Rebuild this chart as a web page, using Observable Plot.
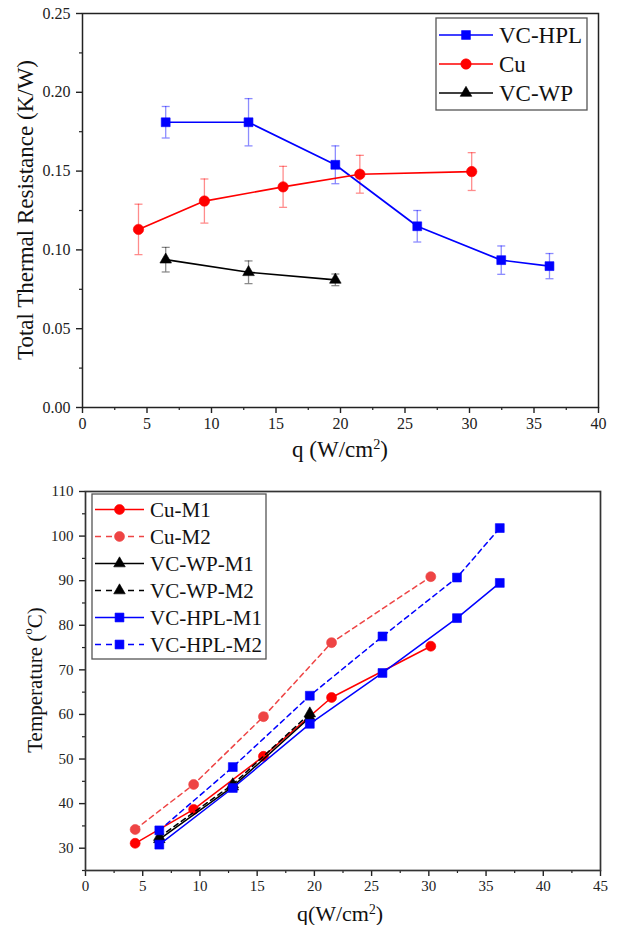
<!DOCTYPE html>
<html><head><meta charset="utf-8">
<script src="https://cdn.jsdelivr.net/npm/d3@7"></script>
<script src="https://cdn.jsdelivr.net/npm/@observablehq/plot@0.6"></script>
<style>
body{margin:0;background:#fff}
#c{position:relative;width:632px;height:925px}
#c svg{display:block;overflow:visible}
#c svg, #c svg text, #c svg tspan{font-family:"Liberation Serif", serif !important}
</style>
</head><body><div id="c"></div>
<script>
// ---------- data: top chart (total thermal resistance) ----------
const qHPL = [6.45, 12.87, 19.6, 25.95, 32.46, 36.2];
const qCu  = [4.34, 9.45, 15.55, 21.5, 30.17];
const qWP  = [6.45, 12.87, 19.6];

const rHPL = [0.181, 0.181, 0.154, 0.115, 0.0935, 0.0897];
const eHPL = [0.010, 0.015, 0.012, 0.010, 0.009, 0.008];
const rCu  = [0.113, 0.131, 0.140, 0.148, 0.1497];
const eCu  = [0.016, 0.014, 0.013, 0.012, 0.012];
const rWP  = [0.0938, 0.0858, 0.081];
const eWP  = [0.0078, 0.0072, 0.0037];

// ---------- data: bottom chart (temperature) ----------
const tCuM1  = [31.1, 38.7, 50.6, 63.8, 75.3];
const tCuM2  = [34.2, 44.3, 59.5, 76.1, 90.9];
const tWPM1  = [32.0, 43.8, 59.3];
const tWPM2  = [32.5, 44.3, 60.2];
const tHPLM1 = [30.8, 43.5, 57.9, 69.3, 81.6, 89.5];
const tHPLM2 = [34.0, 48.2, 64.2, 77.5, 90.7, 101.8];

// tick values
const topXTicks = [0, 5, 10, 15, 20, 25, 30, 35, 40];
const topXMinor = [2.5, 7.5, 12.5, 17.5, 22.5, 27.5, 32.5, 37.5];
const topYTicks = [0, 0.05, 0.10, 0.15, 0.20, 0.25];
const topYMinor = [0.025, 0.075, 0.125, 0.175, 0.225];
const botXTicks = [0, 5, 10, 15, 20, 25, 30, 35, 40, 45];
const botXMinor = [2.5, 7.5, 12.5, 17.5, 22.5, 27.5, 32.5, 37.5, 42.5];
const botYTicks = [30, 40, 50, 60, 70, 80, 90, 100, 110];
const botYMinor = [25, 35, 45, 55, 65, 75, 85, 95, 105];

const FONT = "Liberation Serif";
const BLUE = "#0000ff", RED = "#ff0000", BLACK = "#000000", RED2 = "#ee4444";

const rows = (q, v, e) => q.map((d, i) => ({q: d, v: v[i], e: e ? e[i] : 0}));
const capSymbol = {draw(ctx, size) { const w = Math.sqrt(size / Math.PI); ctx.moveTo(-w, 0); ctx.lineTo(w, 0); }};
const symType = {square: d3.symbolSquare, circle: d3.symbolCircle, triangle: d3.symbolTriangle};

function axes(xt, xm, yt, ym, xfmt, yfmt, fs) {
  return [
    Plot.axisX({ticks: xt, tickSize: 6, tickPadding: 4, tickFormat: xfmt, label: null, fontSize: fs, stroke: "#222", strokeWidth: 1.4, fill: "#222"}),
    Plot.axisX({ticks: xm, tickSize: 3, tickFormat: () => "", label: null, stroke: "#222", strokeWidth: 1.2}),
    Plot.axisY({ticks: yt, tickSize: 6, tickPadding: 6, tickFormat: yfmt, label: null, fontSize: fs, stroke: "#222", strokeWidth: 1.4, fill: "#222"}),
    Plot.axisY({ticks: ym, tickSize: 3, tickFormat: () => "", label: null, stroke: "#222", strokeWidth: 1.2})
  ];
}

// ---------- top chart ----------
const topSeries = [
  {name: "VC-HPL", color: BLUE, symbol: "square", r: 5, data: rows(qHPL, rHPL, eHPL)},
  {name: "Cu", color: RED, symbol: "circle", r: 5.2, data: rows(qCu, rCu, eCu)},
  {name: "VC-WP", color: BLACK, symbol: "triangle", r: 4.3, data: rows(qWP, rWP, eWP)}
];
const topMarks = [];
for (const s of topSeries) {
  topMarks.push(
    Plot.ruleX(s.data, {x: "q", y1: d => d.v - d.e, y2: d => d.v + d.e, stroke: s.color, strokeOpacity: 0.45, strokeWidth: 1.3}),
    Plot.dot(s.data, {x: "q", y: d => d.v + d.e, symbol: capSymbol, r: 4, stroke: s.color, strokeOpacity: 0.45, strokeWidth: 1.3}),
    Plot.dot(s.data, {x: "q", y: d => d.v - d.e, symbol: capSymbol, r: 4, stroke: s.color, strokeOpacity: 0.45, strokeWidth: 1.3})
  );
}
for (const s of topSeries) {
  topMarks.push(
    Plot.line(s.data, {x: "q", y: "v", stroke: s.color, strokeWidth: 1.7}),
    Plot.dot(s.data, {x: "q", y: "v", symbol: s.symbol, r: s.r, fill: s.color, stroke: s.color, strokeWidth: 0.6})
  );
}
const topPlot = Plot.plot({
  width: 632, height: 460,
  marginLeft: 82, marginRight: 34, marginTop: 13, marginBottom: 53,
  x: {domain: [0, 40], label: null},
  y: {domain: [0, 0.25], label: null},
  style: {fontSize: "16px", color: "#222", background: "white"},
  marks: [
    ...axes(topXTicks, topXMinor, topYTicks, topYMinor, d3.format("d"), d3.format(".2f"), 16),
    ...topMarks,
    Plot.frame({stroke: "#222", strokeWidth: 1.5})
  ]
});

// ---------- bottom chart ----------
const botSeries = [
  {name: "Cu-M1", color: RED, symbol: "circle", r: 5, dash: null, data: rows(qCu, tCuM1)},
  {name: "Cu-M2", color: RED2, symbol: "circle", r: 5, dash: "5,4", data: rows(qCu, tCuM2)},
  {name: "VC-WP-M1", color: BLACK, symbol: "triangle", r: 4.3, dash: null, data: rows(qWP, tWPM1)},
  {name: "VC-WP-M2", color: BLACK, symbol: "triangle", r: 4.3, dash: "5,4", data: rows(qWP, tWPM2)},
  {name: "VC-HPL-M1", color: BLUE, symbol: "square", r: 5, dash: null, data: rows(qHPL, tHPLM1)},
  {name: "VC-HPL-M2", color: BLUE, symbol: "square", r: 5, dash: "5,4", data: rows(qHPL, tHPLM2)}
];
const botMarks = [];
for (const s of botSeries) {
  botMarks.push(
    Plot.line(s.data, {x: "q", y: "v", stroke: s.color, strokeWidth: 1.5, strokeDasharray: s.dash || undefined}),
    Plot.dot(s.data, {x: "q", y: "v", symbol: s.symbol, r: s.r, fill: s.color, stroke: s.color, strokeWidth: 0.6})
  );
}
const botPlot = Plot.plot({
  width: 632, height: 465,
  marginLeft: 85, marginRight: 32, marginTop: 31, marginBottom: 55,
  x: {domain: [0, 45], label: null},
  y: {domain: [25, 110], label: null},
  style: {fontSize: "15px", color: "#222", background: "white"},
  marks: [
    ...axes(botXTicks, botXMinor, botYTicks, botYMinor, d3.format("d"), d3.format("d"), 15),
    ...botMarks,
    Plot.frame({stroke: "#333", strokeWidth: 1.7})
  ]
});

const c = document.getElementById("c");
c.appendChild(topPlot);
c.appendChild(botPlot);

// ---------- legends & axis titles ----------
function legend(svg, series, box, y0, dy, x1, x2, xm, xt, fs, dashLen) {
  const g = d3.select(svg).append("g").attr("text-anchor", "start");
  g.append("rect").attr("x", box[0]).attr("y", box[1]).attr("width", box[2]).attr("height", box[3])
    .attr("fill", "white").attr("stroke", "#555").attr("stroke-width", 1.3);
  series.forEach((s, i) => {
    const y = y0 + i * dy;
    g.append("line").attr("x1", x1).attr("x2", x2).attr("y1", y).attr("y2", y)
      .attr("stroke", s.color).attr("stroke-width", 1.6).attr("stroke-dasharray", s.dash ? dashLen : null);
    g.append("path").attr("transform", `translate(${xm},${y})`)
      .attr("d", d3.symbol(symType[s.symbol], Math.PI * s.r * s.r)())
      .attr("fill", s.color).attr("stroke", s.color).attr("stroke-width", 0.6);
    g.append("text").attr("x", xt).attr("y", y).attr("dy", "0.35em")
      .style("font-size", fs + "px").attr("text-anchor", "start")
      .attr("fill", "#111").text(s.name);
  });
}
legend(topPlot, topSeries, [436, 18, 151, 92], 35, 29, 439, 493, 466, 499, 23, null);
legend(botPlot, botSeries, [92, 34, 174, 165], 49.5, 27, 95, 144, 119.5, 150, 21, "6,5");

function title(svg, x, y, rot, fs, parts) {
  const t = d3.select(svg).append("text").style("font-size", fs + "px")
    .attr("fill", "#111").attr("text-anchor", "middle")
    .attr("transform", `translate(${x},${y}) rotate(${rot})`);
  if (rot) t.attr("dominant-baseline", "central");
  for (const p of parts) {
    const ts = t.append("tspan").text(p.t);
    if (p.sup) ts.attr("baseline-shift", "super").style("font-size", (fs * 0.62) + "px");
  }
}
title(topPlot, 25, 210, -90, 23, [{t: "Total Thermal Resistance (K/W)"}]);
title(topPlot, 340, 457, 0, 23, [{t: "q (W/cm"}, {t: "2", sup: true}, {t: ")"}]);
title(botPlot, 35, 220, -90, 21, [{t: "Temperature ("}, {t: "o", sup: true}, {t: "C)"}]);
title(botPlot, 340, 461, 0, 22, [{t: "q(W/cm"}, {t: "2", sup: true}, {t: ")"}]);
</script>
</body></html>
